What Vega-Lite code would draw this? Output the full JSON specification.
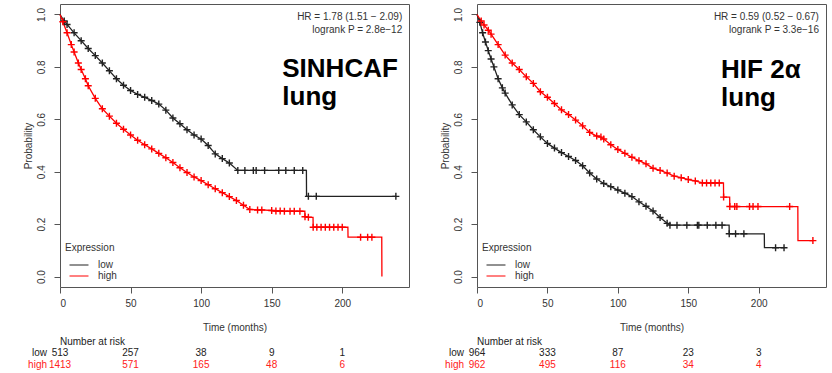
{
"$schema": "https://vega.github.io/schema/vega-lite/v6.json",
"padding": {"left": 22, "top": 3, "right": 2, "bottom": 0},
"background": "white",
"config": {
  "font": "Liberation Sans",
  "view": {"stroke": "#555", "strokeWidth": 1},
  "axis": {"labelFontSize": 10, "titleFontSize": 10, "titleFontWeight": "normal", "labelColor": "#333", "titleColor": "#333", "tickColor": "#555", "domain": false, "grid": false}
},
"datasets": {
  "curveL": [
    {"g":"low","t":0,"s":1,"c":0},{"g":"low","t":3,"s":0.975,"c":1},{"g":"low","t":5,"s":0.962,"c":1},{"g":"low","t":10,"s":0.93,"c":1},{"g":"low","t":15,"s":0.9,"c":1},{"g":"low","t":20,"s":0.87,"c":1},{"g":"low","t":25,"s":0.843,"c":1},{"g":"low","t":30,"s":0.815,"c":1},{"g":"low","t":35,"s":0.785,"c":1},{"g":"low","t":40,"s":0.755,"c":1},{"g":"low","t":45,"s":0.73,"c":1},{"g":"low","t":50,"s":0.71,"c":1},{"g":"low","t":55,"s":0.695,"c":1},{"g":"low","t":60,"s":0.684,"c":1},{"g":"low","t":65,"s":0.672,"c":1},{"g":"low","t":70,"s":0.658,"c":1},{"g":"low","t":75,"s":0.635,"c":1},{"g":"low","t":80,"s":0.605,"c":1},{"g":"low","t":85,"s":0.583,"c":1},{"g":"low","t":90,"s":0.56,"c":1},{"g":"low","t":95,"s":0.54,"c":1},{"g":"low","t":100,"s":0.525,"c":1},{"g":"low","t":105,"s":0.5,"c":1},{"g":"low","t":110,"s":0.468,"c":1},{"g":"low","t":115,"s":0.45,"c":1},{"g":"low","t":120,"s":0.433,"c":1},{"g":"low","t":126,"s":0.405,"c":1},{"g":"low","t":131,"s":0.405,"c":1},{"g":"low","t":137,"s":0.405,"c":1},{"g":"low","t":139,"s":0.405,"c":1},{"g":"low","t":145,"s":0.405,"c":1},{"g":"low","t":155,"s":0.405,"c":1},{"g":"low","t":160,"s":0.405,"c":1},{"g":"low","t":166,"s":0.405,"c":1},{"g":"low","t":172,"s":0.405,"c":1},{"g":"low","t":174.6,"s":0.405,"c":0},{"g":"low","t":174.7,"s":0.306,"c":0},{"g":"low","t":176,"s":0.306,"c":1},{"g":"low","t":181.6,"s":0.306,"c":1},{"g":"low","t":238,"s":0.306,"c":1},
    {"g":"high","t":0,"s":1,"c":0},{"g":"high","t":2,"s":0.972,"c":1},{"g":"high","t":5,"s":0.93,"c":1},{"g":"high","t":8,"s":0.885,"c":1},{"g":"high","t":10,"s":0.857,"c":1},{"g":"high","t":13,"s":0.815,"c":1},{"g":"high","t":15,"s":0.79,"c":1},{"g":"high","t":18,"s":0.755,"c":1},{"g":"high","t":20,"s":0.728,"c":1},{"g":"high","t":25,"s":0.68,"c":1},{"g":"high","t":30,"s":0.64,"c":1},{"g":"high","t":35,"s":0.612,"c":1},{"g":"high","t":40,"s":0.585,"c":1},{"g":"high","t":45,"s":0.562,"c":1},{"g":"high","t":50,"s":0.54,"c":1},{"g":"high","t":55,"s":0.52,"c":1},{"g":"high","t":60,"s":0.503,"c":1},{"g":"high","t":65,"s":0.487,"c":1},{"g":"high","t":70,"s":0.47,"c":1},{"g":"high","t":75,"s":0.453,"c":1},{"g":"high","t":80,"s":0.435,"c":1},{"g":"high","t":85,"s":0.415,"c":1},{"g":"high","t":90,"s":0.397,"c":1},{"g":"high","t":95,"s":0.38,"c":1},{"g":"high","t":100,"s":0.366,"c":1},{"g":"high","t":105,"s":0.35,"c":1},{"g":"high","t":110,"s":0.335,"c":1},{"g":"high","t":115,"s":0.32,"c":1},{"g":"high","t":120,"s":0.305,"c":1},{"g":"high","t":125,"s":0.29,"c":1},{"g":"high","t":130,"s":0.272,"c":1},{"g":"high","t":134.5,"s":0.256,"c":1},{"g":"high","t":140,"s":0.254,"c":1},{"g":"high","t":143,"s":0.254,"c":1},{"g":"high","t":150,"s":0.252,"c":1},{"g":"high","t":153,"s":0.25,"c":1},{"g":"high","t":156,"s":0.25,"c":1},{"g":"high","t":159,"s":0.249,"c":1},{"g":"high","t":163,"s":0.249,"c":1},{"g":"high","t":166,"s":0.249,"c":1},{"g":"high","t":170,"s":0.249,"c":1},{"g":"high","t":173.5,"s":0.249,"c":0},{"g":"high","t":173.6,"s":0.228,"c":1},{"g":"high","t":176,"s":0.226,"c":1},{"g":"high","t":179.3,"s":0.226,"c":0},{"g":"high","t":179.4,"s":0.188,"c":1},{"g":"high","t":182,"s":0.188,"c":1},{"g":"high","t":185,"s":0.188,"c":1},{"g":"high","t":188,"s":0.188,"c":1},{"g":"high","t":191,"s":0.188,"c":1},{"g":"high","t":194,"s":0.188,"c":1},{"g":"high","t":197,"s":0.188,"c":1},{"g":"high","t":200,"s":0.188,"c":1},{"g":"high","t":204,"s":0.188,"c":0},{"g":"high","t":204.1,"s":0.15,"c":0},{"g":"high","t":213,"s":0.15,"c":1},{"g":"high","t":218,"s":0.15,"c":1},{"g":"high","t":221,"s":0.15,"c":1},{"g":"high","t":228,"s":0.15,"c":0},{"g":"high","t":228.1,"s":0,"c":0}
  ],
  "curveR": [
    {"g":"low","t":0,"s":1,"c":0},{"g":"low","t":2,"s":0.97,"c":1},{"g":"low","t":4,"s":0.93,"c":1},{"g":"low","t":6,"s":0.895,"c":1},{"g":"low","t":8,"s":0.862,"c":1},{"g":"low","t":10,"s":0.83,"c":1},{"g":"low","t":12,"s":0.8,"c":1},{"g":"low","t":15,"s":0.755,"c":1},{"g":"low","t":18,"s":0.72,"c":1},{"g":"low","t":20,"s":0.7,"c":1},{"g":"low","t":25,"s":0.655,"c":1},{"g":"low","t":30,"s":0.618,"c":1},{"g":"low","t":35,"s":0.59,"c":1},{"g":"low","t":40,"s":0.56,"c":1},{"g":"low","t":45,"s":0.533,"c":1},{"g":"low","t":50,"s":0.508,"c":1},{"g":"low","t":55,"s":0.49,"c":1},{"g":"low","t":60,"s":0.473,"c":1},{"g":"low","t":65,"s":0.458,"c":1},{"g":"low","t":70,"s":0.443,"c":1},{"g":"low","t":75,"s":0.423,"c":1},{"g":"low","t":80,"s":0.395,"c":1},{"g":"low","t":85,"s":0.372,"c":1},{"g":"low","t":90,"s":0.355,"c":1},{"g":"low","t":95,"s":0.343,"c":1},{"g":"low","t":100,"s":0.33,"c":1},{"g":"low","t":105,"s":0.318,"c":1},{"g":"low","t":110,"s":0.305,"c":1},{"g":"low","t":115,"s":0.285,"c":1},{"g":"low","t":120,"s":0.268,"c":1},{"g":"low","t":125,"s":0.25,"c":1},{"g":"low","t":130,"s":0.225,"c":1},{"g":"low","t":135,"s":0.203,"c":1},{"g":"low","t":137,"s":0.196,"c":1},{"g":"low","t":142,"s":0.196,"c":1},{"g":"low","t":149,"s":0.196,"c":1},{"g":"low","t":156.5,"s":0.196,"c":1},{"g":"low","t":157.5,"s":0.196,"c":1},{"g":"low","t":163.5,"s":0.196,"c":1},{"g":"low","t":169.6,"s":0.196,"c":1},{"g":"low","t":174,"s":0.196,"c":1},{"g":"low","t":179,"s":0.196,"c":0},{"g":"low","t":179.1,"s":0.163,"c":1},{"g":"low","t":183.6,"s":0.163,"c":1},{"g":"low","t":189.5,"s":0.163,"c":1},{"g":"low","t":204,"s":0.163,"c":0},{"g":"low","t":204.1,"s":0.11,"c":0},{"g":"low","t":212,"s":0.11,"c":1},{"g":"low","t":218,"s":0.11,"c":1},
    {"g":"high","t":0,"s":1,"c":0},{"g":"high","t":3,"s":0.975,"c":1},{"g":"high","t":5,"s":0.96,"c":1},{"g":"high","t":8,"s":0.94,"c":1},{"g":"high","t":10,"s":0.925,"c":1},{"g":"high","t":15,"s":0.885,"c":1},{"g":"high","t":20,"s":0.845,"c":1},{"g":"high","t":25,"s":0.815,"c":1},{"g":"high","t":30,"s":0.79,"c":1},{"g":"high","t":35,"s":0.762,"c":1},{"g":"high","t":40,"s":0.737,"c":1},{"g":"high","t":45,"s":0.705,"c":1},{"g":"high","t":50,"s":0.684,"c":1},{"g":"high","t":55,"s":0.66,"c":1},{"g":"high","t":60,"s":0.636,"c":1},{"g":"high","t":65,"s":0.618,"c":1},{"g":"high","t":70,"s":0.597,"c":1},{"g":"high","t":75,"s":0.575,"c":1},{"g":"high","t":80,"s":0.55,"c":1},{"g":"high","t":85,"s":0.536,"c":1},{"g":"high","t":88,"s":0.532,"c":1},{"g":"high","t":90,"s":0.525,"c":1},{"g":"high","t":95,"s":0.503,"c":1},{"g":"high","t":100,"s":0.485,"c":1},{"g":"high","t":105,"s":0.47,"c":1},{"g":"high","t":110,"s":0.455,"c":1},{"g":"high","t":115,"s":0.442,"c":1},{"g":"high","t":120,"s":0.43,"c":1},{"g":"high","t":125,"s":0.413,"c":1},{"g":"high","t":130,"s":0.405,"c":1},{"g":"high","t":135,"s":0.395,"c":1},{"g":"high","t":140,"s":0.383,"c":1},{"g":"high","t":145,"s":0.377,"c":1},{"g":"high","t":150,"s":0.37,"c":1},{"g":"high","t":155,"s":0.365,"c":1},{"g":"high","t":160,"s":0.357,"c":1},{"g":"high","t":163,"s":0.357,"c":1},{"g":"high","t":166,"s":0.357,"c":1},{"g":"high","t":169,"s":0.357,"c":1},{"g":"high","t":172,"s":0.357,"c":1},{"g":"high","t":175,"s":0.357,"c":0},{"g":"high","t":175.1,"s":0.303,"c":1},{"g":"high","t":179.4,"s":0.303,"c":0},{"g":"high","t":179.5,"s":0.267,"c":1},{"g":"high","t":183,"s":0.267,"c":1},{"g":"high","t":184.5,"s":0.267,"c":1},{"g":"high","t":193.5,"s":0.267,"c":1},{"g":"high","t":196,"s":0.267,"c":1},{"g":"high","t":199.5,"s":0.267,"c":1},{"g":"high","t":222,"s":0.267,"c":1},{"g":"high","t":227.8,"s":0.267,"c":0},{"g":"high","t":227.9,"s":0.137,"c":0},{"g":"high","t":238.5,"s":0.137,"c":1}
  ],
  "riskL": [
    {"g":"low","t":0,"n":"513"},{"g":"low","t":50,"n":"257"},{"g":"low","t":100,"n":"38"},{"g":"low","t":150,"n":"9"},{"g":"low","t":200,"n":"1"},
    {"g":"high","t":0,"n":"1413"},{"g":"high","t":50,"n":"571"},{"g":"high","t":100,"n":"165"},{"g":"high","t":150,"n":"48"},{"g":"high","t":200,"n":"6"}
  ],
  "riskR": [
    {"g":"low","t":0,"n":"964"},{"g":"low","t":50,"n":"333"},{"g":"low","t":100,"n":"87"},{"g":"low","t":150,"n":"23"},{"g":"low","t":200,"n":"3"},
    {"g":"high","t":0,"n":"962"},{"g":"high","t":50,"n":"495"},{"g":"high","t":100,"n":"116"},{"g":"high","t":150,"n":"34"},{"g":"high","t":200,"n":"4"}
  ]
},
"hconcat": [
  {
    "width": 349, "height": 283,
    "resolve": {"scale": {"y": "independent"}},
    "layer": [
      {"layer": [
        {"data": {"name": "curveL"},
         "mark": {"type": "line", "strokeWidth": 1.3},
         "encoding": {
           "x": {"field": "t", "type": "quantitative", "title": "Time (months)", "scale": {"domain": [0, 247.3], "nice": false, "zero": false}, "axis": {"values": [0, 50, 100, 150, 200], "tickSize": 6, "labelPadding": 5, "titlePadding": 14}},
           "y": {"field": "s", "type": "quantitative", "title": "Probability", "scale": {"domain": [-0.04, 1.04], "nice": false, "zero": false}, "axis": {"values": [0, 0.2, 0.4, 0.6, 0.8, 1], "format": ".1f", "labelAngle": -90, "labelAlign": "center", "labelBaseline": "bottom", "tickSize": 6, "labelPadding": 8, "titlePadding": 3}},
           "color": {"field": "g", "type": "nominal", "scale": {"domain": ["low", "high"], "range": ["#222222", "#ff0000"]},
             "legend": {"title": "Expression", "orient": "none", "legendX": 5, "legendY": 238.5, "padding": 0, "titleFontSize": 10, "titleFontWeight": "normal", "titleColor": "#333", "titlePadding": 7, "labelFontSize": 10, "labelColor": "#333", "symbolType": "M-2,0H2", "symbolSize": 90, "symbolStrokeWidth": 1, "symbolOffset": 8.5, "labelOffset": 13.5, "rowPadding": -1,
               "encode": {"symbols": {"update": {"stroke": {"signal": "datum.value === 'high' ? '#ff6060' : '#444444'"}}}}}}
         }},
        {"data": {"name": "curveL"},
         "transform": [{"filter": "datum.c == 1"}],
         "mark": {"type": "point", "shape": "M-1,0H1M0,-1V1", "size": 49, "strokeWidth": 1.4, "filled": false, "opacity": 1},
         "encoding": {
           "x": {"field": "t", "type": "quantitative"},
           "y": {"field": "s", "type": "quantitative"},
           "color": {"field": "g", "type": "nominal", "legend": null}
         }},
        {"data": {"values": [{"txt": ["HR = 1.78 (1.51 − 2.09)", "logrank P = 2.8e−12"]}]},
         "mark": {"type": "text", "align": "right", "baseline": "alphabetic", "fontSize": 10, "lineHeight": 13.3, "color": "#333"},
         "encoding": {"x": {"datum": 242.5}, "y": {"datum": 0.979}, "text": {"field": "txt", "type": "nominal"}}},
        {"data": {"values": [{"txt": ["SINHCAF", "lung"]}]},
         "mark": {"type": "text", "align": "left", "baseline": "alphabetic", "fontSize": 26, "fontWeight": "bold", "lineHeight": 28, "color": "#000"},
         "encoding": {"x": {"datum": 157.5}, "y": {"datum": 0.763}, "text": {"field": "txt", "type": "nominal"}}}
      ]},
      {"layer": [
        {"data": {"values": [{"g": "header", "t": 0, "txt": "Number at risk"}]},
         "mark": {"type": "text", "align": "left", "baseline": "middle", "fontSize": 10, "color": "#222"},
         "encoding": {
           "x": {"field": "t", "type": "quantitative"},
           "y": {"field": "g", "type": "ordinal", "scale": {"type": "point", "domain": ["header", "low", "high"], "range": [337.5, 360.5], "padding": 0}, "axis": null},
           "text": {"field": "txt", "type": "nominal"}
         }},
        {"data": {"name": "riskL"},
         "transform": [{"filter": "datum.t == 0"}],
         "mark": {"type": "text", "align": "right", "baseline": "middle", "fontSize": 10, "dx": -13},
         "encoding": {
           "x": {"field": "t", "type": "quantitative"},
           "y": {"field": "g", "type": "ordinal"},
           "text": {"field": "g", "type": "nominal"},
           "color": {"condition": {"test": "datum.g === 'high'", "value": "#ff2020"}, "value": "#222"}
         }},
        {"data": {"name": "riskL"},
         "mark": {"type": "text", "align": "center", "baseline": "middle", "fontSize": 10},
         "encoding": {
           "x": {"field": "t", "type": "quantitative"},
           "y": {"field": "g", "type": "ordinal"},
           "text": {"field": "n", "type": "nominal"},
           "color": {"condition": {"test": "datum.g === 'high'", "value": "#ff2020"}, "value": "#222"}
         }}
      ]}
    ]
  },
  {
    "width": 349, "height": 283,
    "resolve": {"scale": {"y": "independent"}},
    "layer": [
      {"layer": [
        {"data": {"name": "curveR"},
         "mark": {"type": "line", "strokeWidth": 1.3},
         "encoding": {
           "x": {"field": "t", "type": "quantitative", "title": "Time (months)", "scale": {"domain": [0, 247.8], "nice": false, "zero": false}, "axis": {"values": [0, 50, 100, 150, 200], "tickSize": 6, "labelPadding": 5, "titlePadding": 14}},
           "y": {"field": "s", "type": "quantitative", "title": "Probability", "scale": {"domain": [-0.04, 1.04], "nice": false, "zero": false}, "axis": {"values": [0, 0.2, 0.4, 0.6, 0.8, 1], "format": ".1f", "labelAngle": -90, "labelAlign": "center", "labelBaseline": "bottom", "tickSize": 6, "labelPadding": 8, "titlePadding": 3}},
           "color": {"field": "g", "type": "nominal", "scale": {"domain": ["low", "high"], "range": ["#222222", "#ff0000"]},
             "legend": {"title": "Expression", "orient": "none", "legendX": 5, "legendY": 238.5, "padding": 0, "titleFontSize": 10, "titleFontWeight": "normal", "titleColor": "#333", "titlePadding": 7, "labelFontSize": 10, "labelColor": "#333", "symbolType": "M-2,0H2", "symbolSize": 90, "symbolStrokeWidth": 1, "symbolOffset": 8.5, "labelOffset": 13.5, "rowPadding": -1,
               "encode": {"symbols": {"update": {"stroke": {"signal": "datum.value === 'high' ? '#ff6060' : '#444444'"}}}}}}
         }},
        {"data": {"name": "curveR"},
         "transform": [{"filter": "datum.c == 1"}],
         "mark": {"type": "point", "shape": "M-1,0H1M0,-1V1", "size": 49, "strokeWidth": 1.4, "filled": false, "opacity": 1},
         "encoding": {
           "x": {"field": "t", "type": "quantitative"},
           "y": {"field": "s", "type": "quantitative"},
           "color": {"field": "g", "type": "nominal", "legend": null}
         }},
        {"data": {"values": [{"txt": ["HR = 0.59 (0.52 − 0.67)", "logrank P = 3.3e−16"]}]},
         "mark": {"type": "text", "align": "right", "baseline": "alphabetic", "fontSize": 10, "lineHeight": 13.3, "color": "#333"},
         "encoding": {"x": {"datum": 242.8}, "y": {"datum": 0.979}, "text": {"field": "txt", "type": "nominal"}}},
        {"data": {"values": [{"txt": ["HIF 2α", "lung"]}]},
         "mark": {"type": "text", "align": "left", "baseline": "alphabetic", "fontSize": 26, "fontWeight": "bold", "lineHeight": 28, "color": "#000"},
         "encoding": {"x": {"datum": 173.3}, "y": {"datum": 0.756}, "text": {"field": "txt", "type": "nominal"}}}
      ]},
      {"layer": [
        {"data": {"values": [{"g": "header", "t": 0, "txt": "Number at risk"}]},
         "mark": {"type": "text", "align": "left", "baseline": "middle", "fontSize": 10, "color": "#222"},
         "encoding": {
           "x": {"field": "t", "type": "quantitative"},
           "y": {"field": "g", "type": "ordinal", "scale": {"type": "point", "domain": ["header", "low", "high"], "range": [337.5, 360.5], "padding": 0}, "axis": null},
           "text": {"field": "txt", "type": "nominal"}
         }},
        {"data": {"name": "riskR"},
         "transform": [{"filter": "datum.t == 0"}],
         "mark": {"type": "text", "align": "right", "baseline": "middle", "fontSize": 10, "dx": -13},
         "encoding": {
           "x": {"field": "t", "type": "quantitative"},
           "y": {"field": "g", "type": "ordinal"},
           "text": {"field": "g", "type": "nominal"},
           "color": {"condition": {"test": "datum.g === 'high'", "value": "#ff2020"}, "value": "#222"}
         }},
        {"data": {"name": "riskR"},
         "mark": {"type": "text", "align": "center", "baseline": "middle", "fontSize": 10},
         "encoding": {
           "x": {"field": "t", "type": "quantitative"},
           "y": {"field": "g", "type": "ordinal"},
           "text": {"field": "n", "type": "nominal"},
           "color": {"condition": {"test": "datum.g === 'high'", "value": "#ff2020"}, "value": "#222"}
         }}
      ]}
    ]
  }
],
"spacing": 68,
"bounds": "flush",
"resolve": {"scale": {"x": "independent", "y": "independent", "color": "independent"}, "legend": {"color": "independent"}}
}
